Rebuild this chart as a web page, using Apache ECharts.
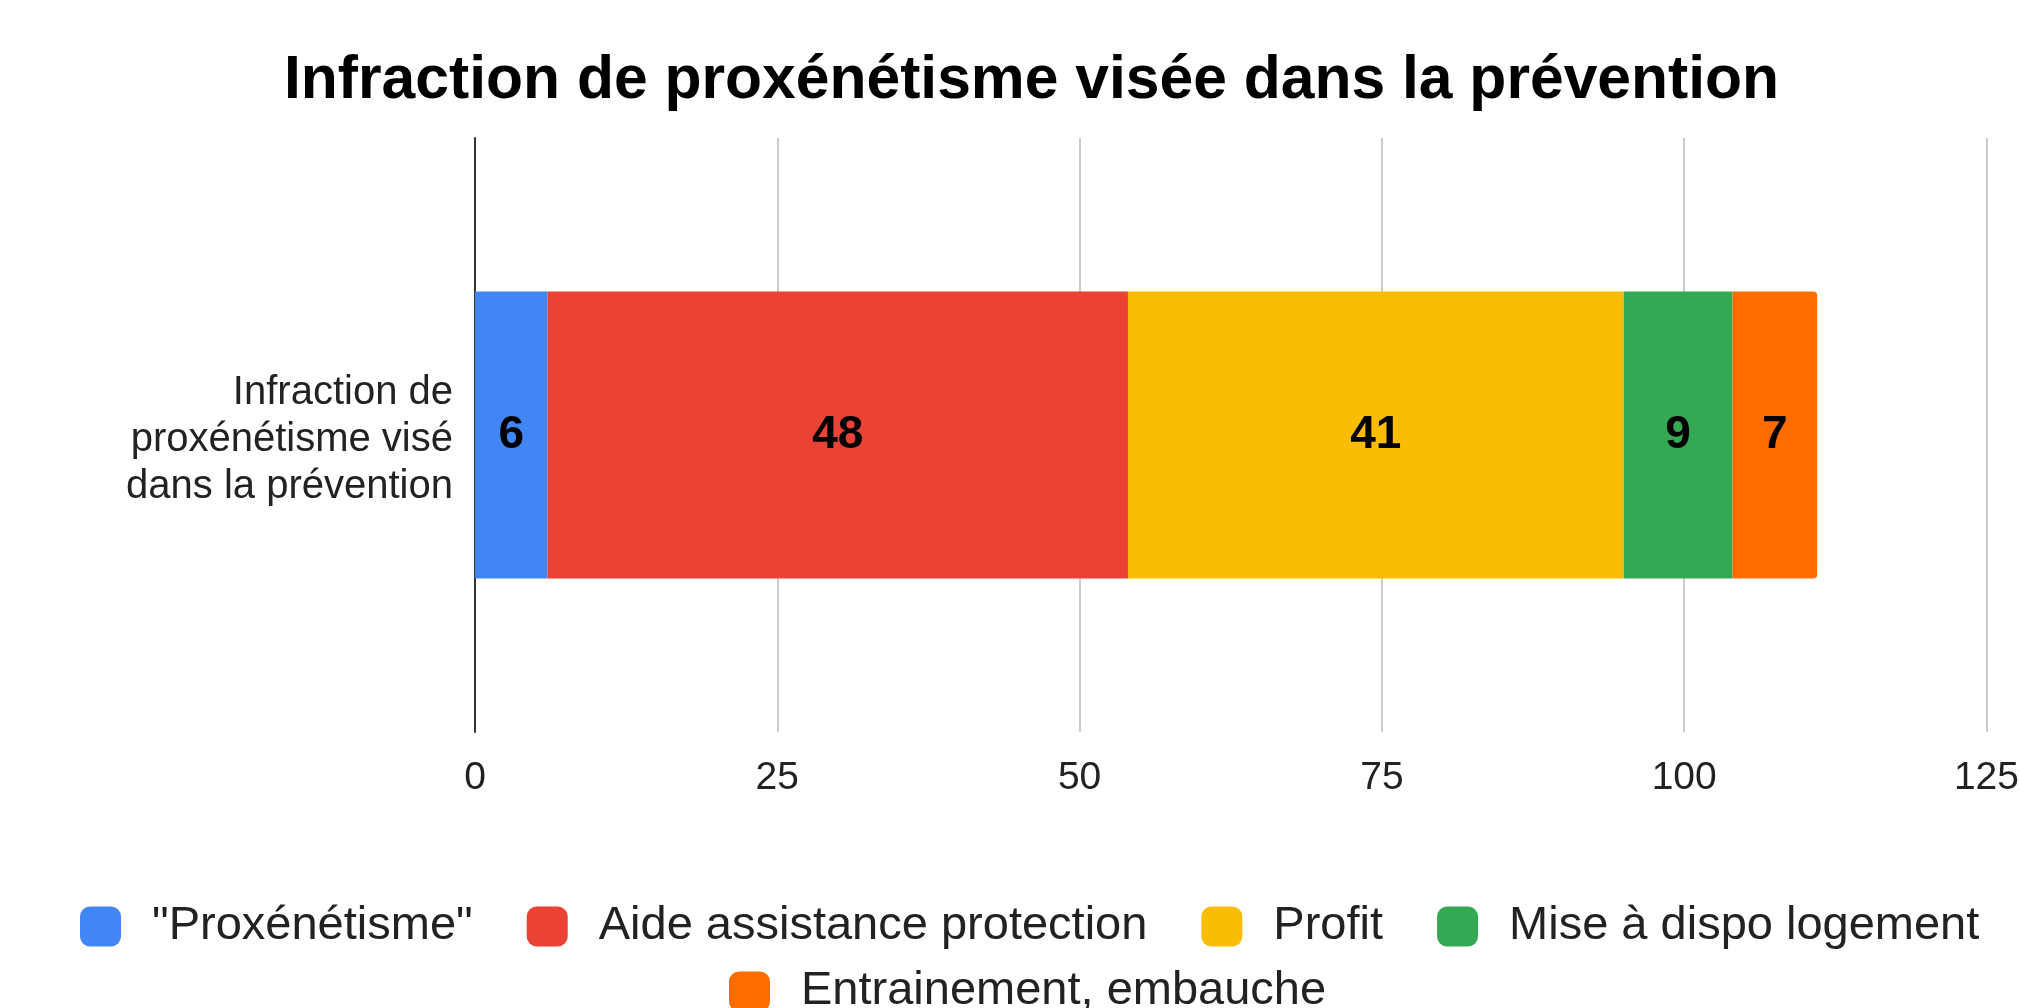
<!DOCTYPE html>
<html>
<head>
<meta charset="utf-8">
<script src="https://cdn.jsdelivr.net/npm/echarts@6/dist/echarts.min.js"></script>
<style>
html,body{margin:0;padding:0;background:#fff;}
#chart{width:2022px;height:1008px;}
</style>
</head>
<body>
<div id="chart"></div>
<script>
const titleText = 'Infraction de proxénétisme visée dans la prévention';
const categories = ['Infraction de\nproxénétisme visé\ndans la prévention'];
const seriesNames = ['"Proxénétisme"', 'Aide assistance protection', 'Profit', 'Mise à dispo logement', 'Entrainement, embauche'];
const proxenetisme = [6];
const aideAssistance = [48];
const profit = [41];
const miseADispo = [9];
const entrainement = [7];
const xTicks = [0, 25, 50, 75, 100, 125];

const colors = ['#4285F4', '#EA4335', '#FBBC04', '#34A853', '#FF6D01'];
const seriesData = [proxenetisme, aideAssistance, profit, miseADispo, entrainement];
const FONT = '"Liberation Sans", Arial, sans-serif';

const chart = echarts.init(document.getElementById('chart'), null, {renderer: 'canvas'});

const series = seriesNames.map((name, i) => ({
  name: name,
  type: 'bar',
  stack: 'total',
  data: seriesData[i],
  barWidth: '48.3%',
  itemStyle: {
    color: colors[i],
    borderRadius: i === seriesNames.length - 1 ? [0, 4, 4, 0] : 0
  },
  label: {
    show: true,
    position: 'inside',
    color: '#000',
    fontFamily: FONT,
    fontWeight: 'bold',
    fontSize: 46
  },
  emphasis: {disabled: true}
}));

const legendCommon = {
  orient: 'horizontal',
  padding: 0,
  itemWidth: 41,
  itemHeight: 40,
  itemGap: 54,
  icon: 'roundRect',
  selectedMode: false,
  textStyle: {
    fontFamily: FONT,
    fontSize: 47,
    color: '#222',
    padding: [0, 0, 0, 26]
  }
};

chart.setOption({
  backgroundColor: '#fff',
  animation: false,
  color: colors,
  title: {
    text: titleText,
    left: 284,
    top: 51,
    padding: 0,
    textStyle: {
      fontFamily: FONT,
      fontWeight: 'bold',
      fontSize: 60.6,
      lineHeight: 61,
      color: '#000'
    }
  },
  legend: [
    Object.assign({}, legendCommon, {left: 80, top: 903, data: seriesNames.slice(0, 4)}),
    Object.assign({}, legendCommon, {left: 729, top: 968, data: seriesNames.slice(4)})
  ],
  grid: {
    left: 475,
    right: 29,
    top: 138,
    bottom: 276,
    containLabel: false
  },
  xAxis: {
    type: 'value',
    min: xTicks[0],
    max: xTicks[xTicks.length - 1],
    interval: xTicks[1] - xTicks[0],
    axisLine: {show: false},
    axisTick: {show: false},
    splitLine: {show: true, lineStyle: {color: '#cccccc', width: 2}},
    axisLabel: {
      margin: 27,
      fontFamily: FONT,
      fontSize: 39,
      color: '#222'
    }
  },
  yAxis: {
    type: 'category',
    data: categories,
    axisLine: {show: true, lineStyle: {color: '#333', width: 2}},
    axisTick: {show: false},
    axisLabel: {
      margin: 22,
      fontFamily: FONT,
      fontSize: 40,
      lineHeight: 47,
      color: '#222',
      align: 'right',
      formatter: function (v) {
        return '{s| }\n' + v.split('\n').map(function (l) { return '{t|' + l + '}'; }).join('\n');
      },
      rich: {
        s: {fontSize: 1, lineHeight: 10},
        t: {fontFamily: FONT, fontSize: 40, lineHeight: 47, color: '#222'}
      }
    }
  },
  series: series
});
</script>
</body>
</html>
